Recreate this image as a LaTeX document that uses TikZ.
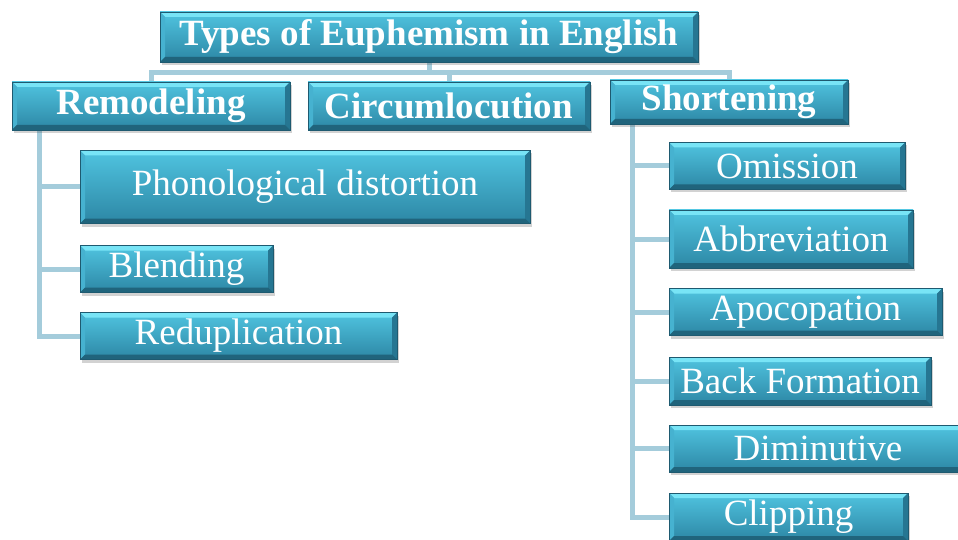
\documentclass[tikz,border=0pt]{standalone}
\usepackage{fontspec}
\setmainfont{Liberation Serif}
\usetikzlibrary{shadows,backgrounds}

\definecolor{facetop}{RGB}{80,196,224}
\definecolor{facebot}{RGB}{44,134,164}
\definecolor{bevtop}{RGB}{120,228,246}
\definecolor{bevleft}{RGB}{70,178,208}
\definecolor{bevright}{RGB}{38,118,146}
\definecolor{bevbot}{RGB}{32,100,124}
\definecolor{edgeline}{RGB}{30,90,112}
\definecolor{linkblue}{RGB}{164,204,219}

\tikzset{
  tile/.style={rectangle, inner sep=0pt, text=white, draw=edgeline, line width=0.6pt,
    top color=facetop, bottom color=facebot,
    drop shadow={shadow xshift=1.5pt, shadow yshift=-3pt, opacity=0.25, fill=black!70},
    font=\fontsize{37}{40}\selectfont,
    path picture={
      \def\bv{5pt}
      \fill[bevtop] (path picture bounding box.north west) -- (path picture bounding box.north east)
        -- ([xshift=-\bv,yshift=-\bv]path picture bounding box.north east)
        -- ([xshift=\bv,yshift=-\bv]path picture bounding box.north west) -- cycle;
      \fill[bevleft] (path picture bounding box.north west) -- (path picture bounding box.south west)
        -- ([xshift=\bv,yshift=\bv]path picture bounding box.south west)
        -- ([xshift=\bv,yshift=-\bv]path picture bounding box.north west) -- cycle;
      \fill[bevright] (path picture bounding box.north east) -- (path picture bounding box.south east)
        -- ([xshift=-\bv,yshift=\bv]path picture bounding box.south east)
        -- ([xshift=-\bv,yshift=-\bv]path picture bounding box.north east) -- cycle;
      \fill[bevbot] (path picture bounding box.south west) -- (path picture bounding box.south east)
        -- ([xshift=-\bv,yshift=\bv]path picture bounding box.south east)
        -- ([xshift=\bv,yshift=\bv]path picture bounding box.south west) -- cycle;
    }},
  head/.style={tile, font=\fontsize{37}{40}\selectfont\bfseries},
  link/.style={draw=linkblue, line width=5pt}
}

\begin{document}
\begin{tikzpicture}[x=1pt,y=-1pt]
  \useasboundingbox (0,0) rectangle (958,540);

  % top of the tree
  \node[head, minimum width=538pt, minimum height=50pt] (types) at (429,37) {Types of Euphemism in English};

  \node[head, minimum width=278pt, minimum height=48pt] (remod) at (151,106) {Remodeling};
  \node[head, minimum width=282pt, minimum height=48pt] (circum) at (449,106) {Circumlocution};
  \node[head, minimum width=238pt, minimum height=44pt] (short) at (729,102) {Shortening};

  % remodeling branch
  \node[tile, minimum width=450pt, minimum height=73pt] (phon) at (305,187) {Phonological distortion};
  \node[tile, minimum width=193pt, minimum height=47pt] (blend) at (176.5,269) {Blending};
  \node[tile, minimum width=317pt, minimum height=47pt] (redup) at (238.5,336) {Reduplication};

  % shortening branch
  \node[tile, minimum width=236pt, minimum height=47pt] (omis) at (787,166) {Omission};
  \node[tile, minimum width=244pt, minimum height=58pt] (abbr) at (791,239) {Abbreviation};
  \node[tile, minimum width=273pt, minimum height=47pt] (apoc) at (805.5,312) {Apocopation};
  \node[tile, minimum width=262pt, minimum height=48pt] (back) at (800,381) {Back Formation};
  \node[tile, minimum width=298pt, minimum height=47pt] (dimin) at (818,448.5) {Diminutive};
  \node[tile, minimum width=239pt, minimum height=48pt] (clip) at (788.5,517) {Clipping};

  \begin{scope}[on background layer]
    \draw[link] (types.south) -- ++(0,10) coordinate (hub);
    \draw[link] (hub) -| (remod.north);
    \draw[link] (hub) -| (circum.north);
    \draw[link] (hub) -| (short.north);

    \coordinate (rspine) at ([xshift=28pt]remod.south west);
    \draw[link] (rspine) |- (redup.west);
    \foreach \n in {phon,blend}
      \draw[link] (rspine |- \n.west) -- (\n.west);

    \coordinate (sspine) at ([xshift=23pt]short.south west);
    \draw[link] (sspine) |- (clip.west);
    \foreach \n in {omis,abbr,apoc,back,dimin}
      \draw[link] (sspine |- \n.west) -- (\n.west);
  \end{scope}
\end{tikzpicture}
\end{document}
